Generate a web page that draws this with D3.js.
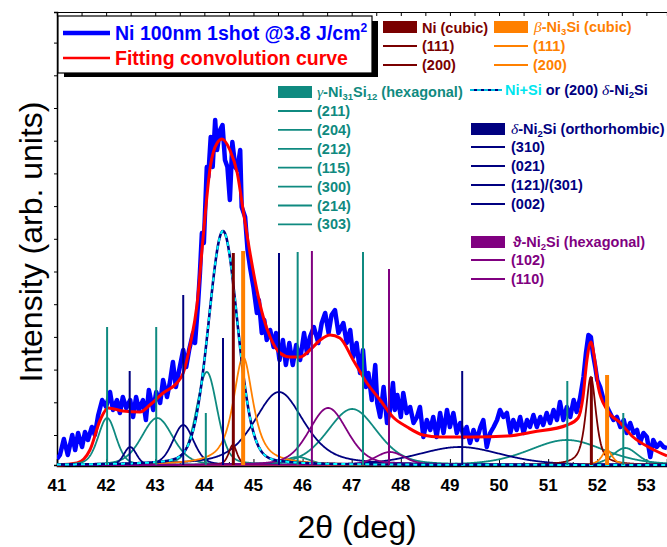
<!DOCTYPE html>
<html>
<head>
<meta charset="utf-8">
<script src="https://cdn.jsdelivr.net/npm/d3@7"></script>
<style>
  body { margin: 0; background: #fff; }
  svg { display: block; font-family: Arial, "Liberation Sans", sans-serif; }
</style>
</head>
<body>
<div id="chart"></div>
<script>
const width = 667;
const height = 547;

// measured XRD pattern: [2theta, intensity]
const measured = [[41.00,6],[41.06,10],[41.14,26],[41.22,10],[41.31,30],[41.37,15],[41.43,32],[41.51,18],[41.57,33],[41.63,25],[41.71,38],[41.77,30],[41.84,50],[41.92,65],[42.00,58],[42.08,73],[42.14,55],[42.22,65],[42.28,52],[42.34,68],[42.41,57],[42.49,65],[42.55,48],[42.61,68],[42.67,55],[42.75,65],[42.81,45],[42.87,75],[42.96,55],[43.02,73],[43.10,62],[43.16,85],[43.24,68],[43.30,83],[43.36,103],[43.42,78],[43.48,93],[43.57,115],[43.63,98],[43.69,115],[43.77,132],[43.81,122],[43.87,160],[43.91,192],[43.95,232],[43.99,222],[44.05,298],[44.08,288],[44.13,328],[44.17,298],[44.22,345],[44.26,315],[44.32,335],[44.37,340],[44.42,305],[44.47,298],[44.52,265],[44.57,323],[44.63,298],[44.67,295],[44.73,315],[44.76,258],[44.83,248],[44.88,215],[44.93,198],[45.00,178],[45.07,152],[45.11,165],[45.17,132],[45.22,145],[45.27,125],[45.34,135],[45.41,118],[45.46,132],[45.53,105],[45.60,125],[45.66,100],[45.73,122],[45.80,100],[45.87,120],[45.95,105],[46.03,132],[46.09,112],[46.15,128],[46.23,138],[46.32,122],[46.39,142],[46.46,152],[46.53,132],[46.59,150],[46.66,155],[46.73,132],[46.83,142],[46.90,122],[46.97,135],[47.03,108],[47.10,122],[47.17,92],[47.23,115],[47.29,78],[47.34,92],[47.41,65],[47.48,100],[47.52,62],[47.58,48],[47.65,78],[47.72,42],[47.78,55],[47.84,82],[47.88,55],[47.93,70],[48.00,48],[48.05,72],[48.12,52],[48.19,58],[48.26,42],[48.33,48],[48.39,58],[48.46,28],[48.53,45],[48.60,35],[48.66,48],[48.73,28],[48.80,52],[48.87,32],[48.94,55],[49.00,38],[49.07,52],[49.14,32],[49.21,42],[49.28,28],[49.34,38],[49.41,22],[49.48,35],[49.55,25],[49.62,38],[49.68,45],[49.75,18],[49.82,32],[49.89,38],[49.96,45],[50.02,55],[50.09,48],[50.16,52],[50.23,32],[50.29,45],[50.36,35],[50.43,48],[50.50,32],[50.57,45],[50.63,38],[50.70,50],[50.77,38],[50.84,48],[50.90,40],[50.97,52],[51.04,42],[51.11,55],[51.18,45],[51.24,63],[51.31,45],[51.38,58],[51.45,48],[51.52,65],[51.58,53],[51.65,67],[51.72,88],[51.77,112],[51.82,130],[51.87,128],[51.91,112],[51.96,98],[52.00,85],[52.06,78],[52.13,65],[52.20,58],[52.26,52],[52.33,45],[52.40,48],[52.47,38],[52.54,45],[52.60,32],[52.67,42],[52.74,32],[52.81,35],[52.87,22],[52.94,32],[53.01,28],[53.08,8],[53.14,25],[53.21,18],[53.28,22],[53.35,18],[53.42,17]];

// fitting convolution curve: [2theta, intensity]
const fitting = [[41.00,0],[41.41,2],[41.67,15],[41.88,45],[42.04,57],[42.34,54],[42.69,53],[42.89,60],[43.16,72],[43.44,82],[43.57,92],[43.71,120],[43.85,160],[43.97,225],[44.12,298],[44.26,322],[44.36,326],[44.52,315],[44.67,292],[44.79,255],[44.93,212],[45.07,175],[45.20,148],[45.34,128],[45.54,112],[45.75,108],[45.95,108],[46.15,115],[46.36,125],[46.56,130],[46.76,127],[47.03,105],[47.31,82],[47.58,65],[47.84,48],[48.13,38],[48.45,30],[48.80,28],[49.47,28],[50.17,29],[50.69,33],[51.39,40],[51.61,47],[51.71,68],[51.79,105],[51.87,123],[51.94,108],[52.02,78],[52.20,55],[52.47,42],[52.73,28],[53.08,17],[53.42,9]];

// fitted components: [phase, centre, height, fwhm, lorentz fraction]
const components = [
  ["gamma", 42.02, 47, 0.43, 0.3], ["gamma", 43.04, 47, 0.75, 0.3], ["gamma", 44.05, 93, 0.50, 0.3],
  ["gamma", 45.90, 8, 0.60, 0.3], ["gamma", 47.01, 56, 1.20, 0.3], ["gamma", 51.38, 25, 1.80, 0.3],
  ["gamma", 52.57, 17, 0.60, 0.3],
  ["delta", 42.49, 18, 0.30, 0.2], ["delta", 43.57, 40, 0.50, 0.3], ["delta", 45.52, 73, 1.20, 0.5],
  ["delta", 49.20, 18, 2.00, 0.3],
  ["ni", 44.58, 20, 0.20, 0.5], ["ni", 51.87, 88, 0.25, 0.7],
  ["beta", 44.79, 108, 0.48, 0.8], ["beta", 52.20, 15, 0.25, 0.7],
  ["theta", 46.52, 57, 0.92, 0.3], ["theta", 47.78, 13, 0.70, 0.3]
];
// Ni+Si or (200) delta-Ni2Si component
const niSiPeak = [44.38, 234, 0.70, 0.2];

// reference pattern sticks: [phase, 2theta, height]
const sticks = [
  ["gamma", 42.02, 138], ["gamma", 43.02, 138], ["gamma", 44.03, 52], ["gamma", 45.90, 213],
  ["gamma", 47.23, 213], ["gamma", 51.39, 84], ["gamma", 52.53, 52],
  ["delta", 42.48, 94], ["delta", 43.57, 170], ["delta", 44.38, 127], ["delta", 45.52, 212], ["delta", 49.25, 94],
  ["theta", 46.19, 214], ["theta", 47.76, 196],
  ["ni", 44.59, 212], ["ni", 51.88, 88],
  ["beta", 44.79, 214], ["beta", 52.20, 90]
];

const xTicks = [41, 42, 43, 44, 45, 46, 47, 48, 49, 50, 51, 52, 53];

const colors = { gamma: "#0f8a80", delta: "#000080", theta: "#800080", ni: "#7a0000", beta: "#ff8000" };
const stickWidth = { gamma: 2, delta: 2, theta: 2, ni: 3, beta: 4 };

const svg = d3.select("#chart").append("svg").attr("width", width).attr("height", height);

const x = d3.scaleLinear().domain([41, 53.42]).range([57, 667]);
const y = d3.scaleLinear().domain([0, 453]).range([465, 12]);

svg.append("defs").append("clipPath").attr("id", "plot")
  .append("rect").attr("x", 57).attr("y", 12).attr("width", 610).attr("height", 455);

// frame + ticks
const frame = svg.append("g");
frame.append("g").attr("transform", "translate(0,466)")
  .call(d3.axisBottom(x).tickValues(xTicks).tickSize(-7).tickFormat(""))
  .call(g => g.select(".domain").attr("stroke-width", 1.5));
frame.append("g").attr("transform", "translate(0,466)")
  .call(d3.axisBottom(x).tickValues(xTicks.map(d => d + 0.5)).tickSize(-4).tickFormat(""))
  .call(g => g.select(".domain").remove());
frame.append("g").attr("transform", "translate(0,12)")
  .call(d3.axisTop(x).tickValues(d3.range(41, 53.5, 0.5)).tickSize(-4).tickFormat(""))
  .call(g => g.select(".domain").attr("stroke-width", 1.2));
frame.append("g").attr("transform", "translate(57,0)")
  .call(d3.axisLeft(y).tickValues(d3.range(30, 453, 32.7)).tickSize(3).tickFormat(""))
  .call(g => g.select(".domain").attr("stroke-width", 1.5));

frame.selectAll(".xlab").data(xTicks).join("text")
  .attr("x", d => x(d)).attr("y", 491)
  .attr("text-anchor", "middle").attr("font-size", 17).attr("font-weight", "bold")
  .text(d => d);

svg.append("text").attr("x", 357).attr("y", 538).attr("text-anchor", "middle")
  .attr("font-size", 32).text("2\u03b8 (deg)");
svg.append("text").attr("transform", "translate(42,242) rotate(-90)").attr("text-anchor", "middle")
  .attr("font-size", 32).text("Intensity (arb. units)");

// curves
const plot = svg.append("g").attr("clip-path", "url(#plot)");
const grid = d3.range(41, 53.43, 0.01);
const pv = (t, c, h, w, eta) => {
  const u = (t - c) / w;
  return h * (eta / (1 + 4 * u * u) + (1 - eta) * Math.exp(-4 * Math.LN2 * u * u));
};
const line = d3.line().x(d => x(d[0])).y(d => y(d[1]));

plot.append("path").datum(measured)
  .attr("d", line).attr("fill", "none").attr("stroke", "#0000ff")
  .attr("stroke-width", 4.5).attr("stroke-linejoin", "round");

plot.append("path").datum(fitting)
  .attr("d", line.curve(d3.curveMonotoneX)).attr("fill", "none")
  .attr("stroke", "#ff0000").attr("stroke-width", 3);
line.curve(d3.curveLinear);

plot.selectAll(".comp").data(components).join("path")
  .attr("d", c => line(grid.map(t => [t, pv(t, c[1], c[2], c[3], c[4])])))
  .attr("fill", "none").attr("stroke", c => colors[c[0]]).attr("stroke-width", 1.8);

const niSiPath = line(grid.map(t => [t, pv(t, ...niSiPeak)]));
plot.append("path").attr("d", niSiPath).attr("fill", "none")
  .attr("stroke", "#000080").attr("stroke-width", 2.6);
plot.append("path").attr("d", niSiPath).attr("fill", "none")
  .attr("stroke", "#00ffff").attr("stroke-width", 2).attr("stroke-dasharray", "4,4");

plot.selectAll(".stick").data(sticks).join("line")
  .attr("x1", d => x(d[1])).attr("x2", d => x(d[1]))
  .attr("y1", y(0)).attr("y2", d => y(d[2]))
  .attr("stroke", d => colors[d[0]]).attr("stroke-width", d => stickWidth[d[0]]);

// legends
function rich(g, px, py, parts, color) {
  const t = g.append("text").attr("x", px).attr("y", py).attr("font-size", 14.5)
    .attr("font-weight", "bold").attr("fill", color);
  let shift = 0;
  parts.forEach(p => {
    const s = t.append("tspan").text(p.t);
    const want = p.sub ? 3 : p.sup ? -8 : 0;
    if (want !== shift) { s.attr("dy", want - shift); shift = want; }
    if (p.sub || p.sup) s.attr("font-size", p.size || 9.5);
    if (p.greek) s.attr("font-family", "'Liberation Serif', serif").attr("font-style", "italic")
      .attr("font-weight", "normal").attr("font-size", 15.5);
    if (p.color) s.attr("fill", p.color);
  });
  return t;
}
const lg = svg.append("g");
function entry(x0, lineY, color, square) {
  if (square) lg.append("rect").attr("x", x0).attr("y", lineY - 6).attr("width", 34).attr("height", 12).attr("fill", color);
  else lg.append("line").attr("x1", x0).attr("x2", x0 + 34).attr("y1", lineY).attr("y2", lineY)
    .attr("stroke", color).attr("stroke-width", 1.8);
}

// main legend box
lg.append("rect").attr("x", 64).attr("y", 21).attr("width", 314).attr("height", 56).attr("fill", "#000");
lg.append("rect").attr("x", 58).attr("y", 16).attr("width", 314).attr("height", 57)
  .attr("fill", "#fff").attr("stroke", "#000").attr("stroke-width", 1.2);
lg.append("line").attr("x1", 63).attr("x2", 110).attr("y1", 33).attr("y2", 33).attr("stroke", "#0000ff").attr("stroke-width", 4.5);
lg.append("line").attr("x1", 63).attr("x2", 110).attr("y1", 58).attr("y2", 58).attr("stroke", "#ff0000").attr("stroke-width", 2.5);
rich(lg, 115, 40, [{ t: "Ni 100nm 1shot @3.8 J/cm" }, { t: "2", sup: true, size: 12 }], "#0000ff").attr("font-size", 19.5);
rich(lg, 115, 65, [{ t: "Fitting convolution curve" }], "#ff0000").attr("font-size", 19.5);

// Ni cubic
entry(383, 27, colors.ni, true);
rich(lg, 422, 33, [{ t: "Ni (cubic)" }], colors.ni);
[["(111)", 46], ["(200)", 65]].forEach(([s, yy]) => { entry(383, yy, colors.ni); rich(lg, 422, yy + 5, [{ t: s }], colors.ni); });

// beta-Ni3Si
entry(494, 27, colors.beta, true);
rich(lg, 534, 32, [{ t: "\u03b2", greek: true }, { t: "-Ni" }, { t: "3", sub: true }, { t: "Si (cubic)" }], colors.beta);
[["(111)", 46], ["(200)", 65]].forEach(([s, yy]) => { entry(494, yy, colors.beta); rich(lg, 533, yy + 5, [{ t: s }], colors.beta); });

// gamma-Ni31Si12
entry(278, 92, colors.gamma, true);
rich(lg, 317, 97, [{ t: "\u03b3", greek: true }, { t: "-Ni" }, { t: "31", sub: true }, { t: "Si" }, { t: "12", sub: true }, { t: " (hexagonal)" }], colors.gamma);
["(211)", "(204)", "(212)", "(115)", "(300)", "(214)", "(303)"].forEach((s, i) => {
  const yy = 111 + i * 18.9;
  entry(278, yy, colors.gamma);
  rich(lg, 317, yy + 5, [{ t: s }], colors.gamma);
});

// Ni+Si dashed
lg.append("line").attr("x1", 470).attr("x2", 502).attr("y1", 90).attr("y2", 90).attr("stroke", "#000080").attr("stroke-width", 2);
lg.append("line").attr("x1", 470).attr("x2", 502).attr("y1", 90).attr("y2", 90).attr("stroke", "#00ffff").attr("stroke-width", 1.6).attr("stroke-dasharray", "4,3");
rich(lg, 505, 95, [{ t: "Ni+Si", color: "#00e5ee" }, { t: " or (200) " }, { t: "\u03b4", greek: true }, { t: "-Ni" }, { t: "2", sub: true }, { t: "Si" }], colors.delta);

// delta-Ni2Si
entry(471, 129, colors.delta, true);
rich(lg, 511, 134, [{ t: "\u03b4", greek: true }, { t: "-Ni" }, { t: "2", sub: true }, { t: "Si (orthorhombic)" }], colors.delta);
["(310)", "(021)", "(121)/(301)", "(002)"].forEach((s, i) => {
  const yy = 147 + i * 19;
  entry(471, yy, colors.delta);
  rich(lg, 511, yy + 5, [{ t: s }], colors.delta);
});

// theta-Ni2Si
entry(471, 242, colors.theta, true);
rich(lg, 513, 247, [{ t: "\u03d1-Ni" }, { t: "2", sub: true }, { t: "Si (hexagonal)" }], colors.theta);
[["(102)", 260], ["(110)", 279]].forEach(([s, yy]) => { entry(471, yy, colors.theta); rich(lg, 511, yy + 5, [{ t: s }], colors.theta); });
</script>
</body>
</html>
